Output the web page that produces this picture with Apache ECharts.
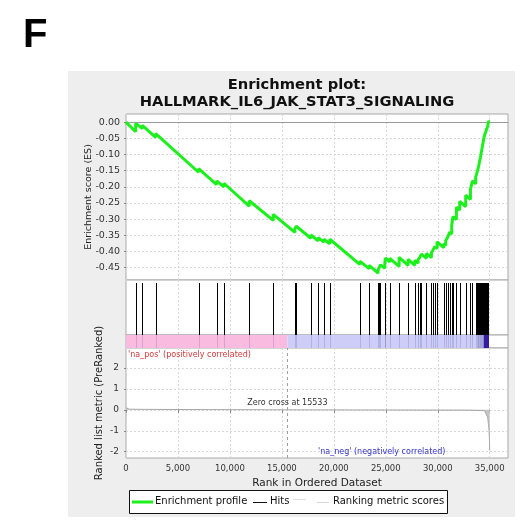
<!DOCTYPE html>
<html>
<head>
<meta charset="utf-8">
<script src="https://cdn.jsdelivr.net/npm/echarts@6/dist/echarts.min.js"></script>
<style>
  html, body { margin: 0; padding: 0; background: #ffffff; }
  #chart { width: 520px; height: 531px; }
</style>
</head>
<body>
<div id="chart"></div>
<script>
// ---- data ----
const panelLetter = 'F';
const titleLines = ['Enrichment plot:', 'HALLMARK_IL6_JAK_STAT3_SIGNALING'];
const rankTicks = [0, 5000, 10000, 15000, 20000, 25000, 30000, 35000];
const esTicks = [0, -0.05, -0.10, -0.15, -0.20, -0.25, -0.30, -0.35, -0.40, -0.45];
const metricTicks = [-2, -1, 0, 1, 2];
const zeroCross = 15533;

// positions of gene-set members in the ranked list
const hitRanks = [
  930, 1570, 2855, 6985, 8720, 9420, 11860, 14165, 16250, 16380,
  17790, 18490, 19040, 19610, 22500, 23390, 24260, 24370, 24490, 24900,
  24950, 25385, 26280, 27145, 27790, 28110, 28270, 28430, 28910, 29390,
  29550, 29710, 29935, 30575, 30770, 30960, 31150, 31345, 31470, 31795,
  32115, 32690, 33145, 33335, 33650, 33740, 33830, 33920, 34010, 34100,
  34190, 34280, 34370, 34460, 34550, 34640, 34730, 34820, 34880
];

// running enrichment score [rank, ES]
const esCurve = [
  [0, 0.000],
  [930, -0.030], [930, -0.004],
  [1570, -0.020], [1570, -0.010],
  [2855, -0.047], [2855, -0.036],
  [6985, -0.155], [6985, -0.144],
  [8720, -0.193], [8720, -0.182],
  [9420, -0.200], [9420, -0.189],
  [11860, -0.260], [11860, -0.243],
  [14165, -0.304], [14165, -0.285],
  [16250, -0.341], [16250, -0.330], [16380, -0.333], [16380, -0.322],
  [17790, -0.359], [17790, -0.349],
  [18490, -0.367], [18490, -0.357],
  [19040, -0.371], [19040, -0.362],
  [19610, -0.376], [19610, -0.362],
  [22500, -0.440], [22500, -0.430],
  [23390, -0.453], [23390, -0.443],
  [24260, -0.467], [24260, -0.457], [24370, -0.460], [24370, -0.449], [24490, -0.452], [24490, -0.441],
  [24900, -0.452], [24900, -0.441], [24950, -0.442], [24950, -0.420],
  [25385, -0.432], [25385, -0.421],
  [26280, -0.446], [26280, -0.418],
  [27145, -0.443], [27145, -0.424],
  [27790, -0.443], [27790, -0.427],
  [28110, -0.436], [28110, -0.425], [28270, -0.429], [28270, -0.418], [28430, -0.423], [28430, -0.408],
  [28910, -0.421], [28910, -0.406],
  [29390, -0.419], [29390, -0.404], [29550, -0.408], [29550, -0.395], [29710, -0.400], [29710, -0.385],
  [29935, -0.391], [29935, -0.370],
  [30575, -0.388], [30575, -0.376], [30770, -0.381], [30770, -0.366], [30960, -0.371], [30960, -0.356],
  [31150, -0.361], [31150, -0.340], [31345, -0.346], [31345, -0.318], [31470, -0.322], [31470, -0.292],
  [31795, -0.301], [31795, -0.263],
  [32115, -0.272], [32115, -0.245],
  [32690, -0.261], [32690, -0.226],
  [33145, -0.239], [33145, -0.208],
  [33335, -0.213], [33335, -0.182],
  [33650, -0.191], [33650, -0.170],
  [33740, -0.173], [33740, -0.160], [33830, -0.163], [33830, -0.150], [33920, -0.153], [33920, -0.138],
  [34010, -0.141], [34010, -0.124], [34100, -0.127], [34100, -0.110], [34190, -0.113], [34190, -0.094],
  [34280, -0.097], [34280, -0.078], [34370, -0.081], [34370, -0.062], [34460, -0.065], [34460, -0.046],
  [34550, -0.049], [34550, -0.036], [34640, -0.039], [34640, -0.028], [34730, -0.031], [34730, -0.020],
  [34820, -0.023], [34820, -0.010], [34880, -0.012], [34880, 0.002],
  [35000, 0.000]
];

// ranked list metric [rank, score]
const metricCurve = [
  [0, 0.10], [60, 0.05], [300, 0.03], [2000, 0.02], [8000, 0.01], [15533, 0.0],
  [25000, -0.01], [33000, -0.02], [34500, -0.04], [34650, -0.12], [34800, -0.35],
  [34880, -0.70], [34940, -1.00], [34980, -1.50], [35000, -1.95]
];

// colour band boundaries along the ranked list
const bandEdges = [0, 15533, 34000, 34420, 34930];

const legendNames = ['Enrichment profile', 'Hits', '', 'Ranking metric scores'];
const posLabel = "'na_pos' (positively correlated)";
const negLabel = "'na_neg' (negatively correlated)";
const rankAxisName = 'Rank in Ordered Dataset';
const esAxisName = 'Enrichment score (ES)';
const metricAxisName = 'Ranked list metric (PreRanked)';

// ---- styling ----
const FONT = 'DejaVu Sans';
const bandColors = ['#f9bbe0', '#cdcdf8', '#b9b9f0', '#3a1ca8'];
const RANK_MAX = 36760;
const gridBorder = '#a8a8a8';
const dashed = { color: '#d8d8d8', type: [2, 2], width: 1 };

const grids = [
  { left: 126, top: 114, width: 382, height: 166 },  // ES
  { left: 126, top: 280, width: 382, height: 55 },   // hits
  { left: 126, top: 335, width: 382, height: 13 },   // colour band
  { left: 126, top: 348, width: 382, height: 110 }   // metric
].map(g => Object.assign({ show: true, backgroundColor: '#ffffff', borderColor: gridBorder, borderWidth: 1 }, g));

function rankAxis(i, showLabels) {
  return {
    type: 'value', gridIndex: i, min: 0, max: RANK_MAX,
    axisLine: { show: i === 0, onZero: true, lineStyle: { color: '#9a9a9a', width: 1 } },
    axisTick: { show: showLabels, length: 3, customValues: rankTicks, lineStyle: { color: '#888' } },
    axisLabel: {
      show: showLabels, customValues: rankTicks, fontFamily: FONT, fontSize: 8.5, color: '#333', margin: 6,
      formatter: v => v.toLocaleString('en-US')
    },
    splitLine: { show: i !== 2, lineStyle: dashed },
    name: showLabels ? rankAxisName : '',
    nameLocation: 'middle', nameGap: 20, nameMoveOverlap: false,
    nameTextStyle: { fontFamily: FONT, fontSize: 10.5, color: '#222' }
  };
}

const option = {
  animation: false,
  backgroundColor: '#ffffff',
  title: {
    text: titleLines.join('\n'),
    left: 292, top: 72, textAlign: 'center',
    textStyle: { fontFamily: FONT, fontSize: 14.7, fontWeight: 'bold', color: '#111', lineHeight: 17 }
  },
  grid: grids,
  xAxis: [rankAxis(0, false), rankAxis(1, false), rankAxis(2, false), rankAxis(3, true)],
  yAxis: [
    {
      type: 'value', gridIndex: 0, min: -0.488, max: 0.025,
      axisLine: { show: false },
      axisTick: { show: true, length: 2, customValues: esTicks, lineStyle: { color: '#888' } },
      axisLabel: { customValues: esTicks, fontFamily: FONT, fontSize: 9.5, color: '#333', margin: 6,
        formatter: v => v.toFixed(2) },
      splitLine: { show: true, lineStyle: dashed },
      name: esAxisName, nameLocation: 'middle', nameRotate: 90, nameGap: 32, nameMoveOverlap: false,
      nameTextStyle: { fontFamily: FONT, fontSize: 9.5, color: '#222' }
    },
    { type: 'value', gridIndex: 1, min: 0, max: 1, show: false, splitLine: { show: false } },
    { type: 'value', gridIndex: 2, min: 0, max: 1, show: false, splitLine: { show: false } },
    {
      type: 'value', gridIndex: 3, min: -2.3, max: 2.95,
      axisLine: { show: false },
      axisTick: { show: true, length: 2, customValues: metricTicks, lineStyle: { color: '#888' } },
      axisLabel: { customValues: metricTicks, fontFamily: FONT, fontSize: 9, color: '#333', margin: 7 },
      splitLine: { show: true, lineStyle: dashed },
      name: metricAxisName, nameLocation: 'middle', nameRotate: 90, nameGap: 22, nameMoveOverlap: false,
      nameTextStyle: { fontFamily: FONT, fontSize: 10, color: '#222' }
    }
  ],
  series: [
    {
      name: legendNames[0], type: 'line', xAxisIndex: 0, yAxisIndex: 0,
      data: esCurve, showSymbol: false, symbol: 'none',
      lineStyle: { color: '#1cf01c', width: 3 }, z: 5
    },
    {
      name: legendNames[1], type: 'custom', xAxisIndex: 1, yAxisIndex: 1,
      data: hitRanks.map(r => [r]),
      renderItem: (params, api) => {
        const top = api.coord([api.value(0), 1]);
        const bot = api.coord([api.value(0), 0]);
        const x = Math.round(top[0]) + 0.5;
        return { type: 'line', shape: { x1: x, y1: top[1] + 3, x2: x, y2: bot[1] },
          style: { stroke: '#000000', lineWidth: 1 } };
      }
    },
    {
      type: 'custom', xAxisIndex: 2, yAxisIndex: 2,
      data: bandEdges.slice(0, -1).map((s, i) => [s, bandEdges[i + 1], i]),
      renderItem: (params, api) => {
        const a = api.coord([api.value(0), 1]);
        const b = api.coord([api.value(1), 0]);
        return { type: 'rect', shape: { x: a[0], y: a[1], width: b[0] - a[0], height: b[1] - a[1] },
          style: { fill: bandColors[api.value(2)] } };
      }
    },
    {
      type: 'custom', xAxisIndex: 2, yAxisIndex: 2,
      data: hitRanks.map(r => [r]),
      renderItem: (params, api) => {
        const top = api.coord([api.value(0), 1]);
        const bot = api.coord([api.value(0), 0]);
        const x = Math.round(top[0]) + 0.5;
        return { type: 'line', shape: { x1: x, y1: top[1], x2: x, y2: bot[1] },
          style: { stroke: 'rgba(40,40,110,0.16)', lineWidth: 1 } };
      }, z: 3
    },
    {
      name: legendNames[3], type: 'line', xAxisIndex: 3, yAxisIndex: 3,
      data: metricCurve, showSymbol: false, symbol: 'none',
      lineStyle: { color: '#a9a9a9', width: 1 },
      areaStyle: { color: '#c4c4c4', opacity: 1 },
      markLine: {
        silent: true, symbol: 'none', animation: false,
        lineStyle: { color: '#a0a0a0', type: [3, 3], width: 1 },
        label: { show: false },
        data: [{ xAxis: zeroCross }]
      },
      markPoint: {
        silent: true, symbol: 'circle', symbolSize: 0,
        label: { show: true, position: 'top', distance: 3, formatter: 'Zero cross at ' + zeroCross,
          fontFamily: FONT, fontSize: 8, color: '#333' },
        data: [{ coord: [zeroCross, 0] }]
      }
    }
  ],
  graphic: [
    { type: 'rect', z: -10, shape: { x: 68, y: 71, width: 447, height: 446 }, style: { fill: '#eeeeee' } },
    { type: 'text', x: 23, y: 16, style: { text: panelLetter, font: 'bold 40px "Liberation Sans", Arial, sans-serif', fill: '#000' } },
    { type: 'text', x: 128, y: 351, z: 20, style: { text: posLabel, font: '8px "' + FONT + '"', fill: '#d23a3a' } },
    { type: 'text', x: 318, y: 448, z: 20, style: { text: negLabel, font: '8px "' + FONT + '"', fill: '#3535c8' } },
    // legend box
    { type: 'rect', z: 20, shape: { x: 129.5, y: 490.5, width: 318, height: 23 }, style: { fill: '#ffffff', stroke: '#111', lineWidth: 1 } },
    { type: 'line', z: 21, shape: { x1: 132, y1: 502, x2: 153, y2: 502 }, style: { stroke: '#1cf01c', lineWidth: 3 } },
    { type: 'text', z: 21, x: 155, y: 496, style: { text: legendNames[0], font: '10px "' + FONT + '"', fill: '#111' } },
    { type: 'line', z: 21, shape: { x1: 253, y1: 502.5, x2: 267, y2: 502.5 }, style: { stroke: '#111', lineWidth: 1 } },
    { type: 'text', z: 21, x: 270, y: 496, style: { text: legendNames[1], font: '10px "' + FONT + '"', fill: '#111' } },
    { type: 'line', z: 21, shape: { x1: 293, y1: 499.5, x2: 306, y2: 499.5 }, style: { stroke: '#dddddd', lineWidth: 1 } },
    { type: 'line', z: 21, shape: { x1: 317, y1: 502.5, x2: 329, y2: 502.5 }, style: { stroke: '#d6d6d6', lineWidth: 1 } },
    { type: 'text', z: 21, x: 333, y: 496, style: { text: legendNames[3], font: '10px "' + FONT + '"', fill: '#111' } }
  ]
};

const chart = echarts.init(document.getElementById('chart'), null, { renderer: 'canvas' });
chart.setOption(option);
</script>
</body>
</html>
